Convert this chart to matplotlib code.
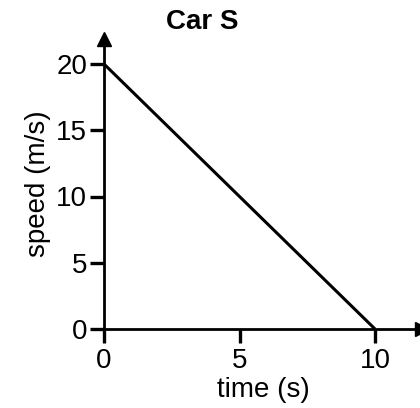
import matplotlib
matplotlib.use("Agg")
import matplotlib.pyplot as plt

plt.rcParams['font.family'] = ['Liberation Sans', 'DejaVu Sans']

time_s = [0, 10]
speed_ms = [20, 0]
x_ticks = [0, 5, 10]
y_ticks = [0, 5, 10, 15, 20]
title = "Car S"
x_label = "time (s)"
y_label = "speed (m/s)"

W, H = 420, 408
fig = plt.figure(figsize=(W / 100, H / 100), dpi=100)

x0_px, x10_px = 104, 375
y0_px, y20_px = 329, 64
xpu = (x10_px - x0_px) / 10
ypu = (y0_px - y20_px) / 20
right_px, top_px = 422, 38.5
xmax = (right_px - x0_px) / xpu
ymax = (y0_px - top_px) / ypu

ax = fig.add_axes([x0_px / W, (H - y0_px) / H, (right_px - x0_px) / W, (y0_px - top_px) / H])
ax.set_xlim(0, xmax)
ax.set_ylim(0, ymax)

ax.plot(time_s, speed_ms, color='black', lw=2.2, solid_capstyle='butt', clip_on=False)

for s in ['top', 'right']:
    ax.spines[s].set_visible(False)
for s in ['left', 'bottom']:
    ax.spines[s].set_linewidth(2.0)

ax.plot(0, 1, marker='^', color='black', ms=10, transform=ax.get_xaxis_transform(), clip_on=False)
ax.plot(1, 0, marker='>', color='black', ms=10, transform=ax.get_yaxis_transform(), clip_on=False)

ax.set_xticks(x_ticks)
ax.set_yticks(y_ticks)
ax.tick_params(axis='both', direction='out', length=10, width=2.4, labelsize=20)
ax.tick_params(axis='x', pad=4)
ax.tick_params(axis='y', pad=2)

ax.set_xlabel(x_label, fontsize=20, labelpad=2)
ax.set_ylabel(y_label, fontsize=20, labelpad=4)
fig.text(202 / W, (H - 22) / H, title, ha='center', va='center', fontsize=20, fontweight='bold')

fig.savefig("out.png", dpi=100)
